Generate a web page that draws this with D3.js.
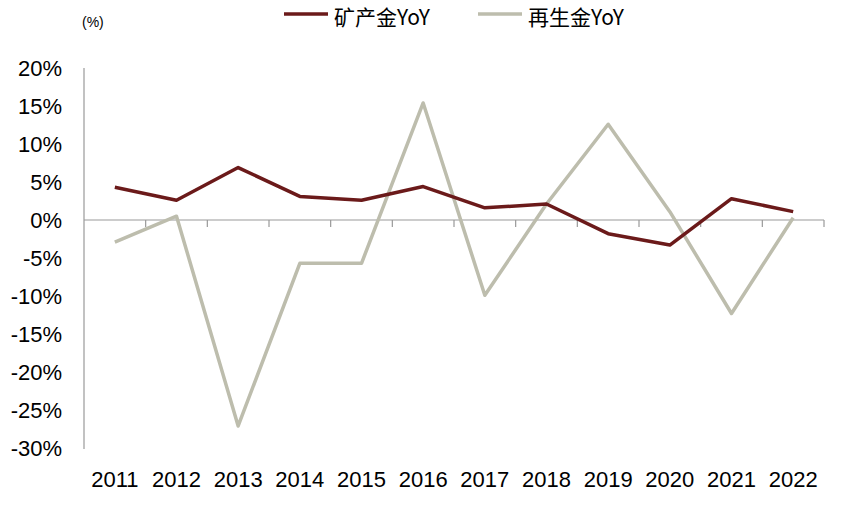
<!DOCTYPE html>
<html><head><meta charset="utf-8">
<script src="https://cdn.jsdelivr.net/npm/d3@7"></script>
<style>body{margin:0;background:#fff;} text{font-family:"Liberation Sans",Arial,sans-serif;}</style>
</head><body><svg id="c" width="848" height="512"></svg>
<script>
const years = ["2011","2012","2013","2014","2015","2016","2017","2018","2019","2020","2021","2022"];
const mineGold = [4.3,2.6,6.9,3.1,2.6,4.4,1.6,2.1,-1.8,-3.3,2.8,1.1];
const recycledGold = [-2.9,0.5,-27.1,-5.7,-5.7,15.4,-9.9,2.1,12.6,1.1,-12.3,0.3];
const yTicks = [20,15,10,5,0,-5,-10,-15,-20,-25,-30];
const seriesNames = ["矿产金YoY","再生金YoY"];
const colors = ["#6B1A1A","#BDBDAD"];

const svg = d3.select("#c");
const x = d3.scaleBand().domain(years).range([84,824]);
const y = d3.scaleLinear().domain([-30,20]).range([448,68]);

// y axis
svg.append("line").attr("x1",84).attr("x2",84).attr("y1",68).attr("y2",449).attr("stroke","#999").attr("stroke-width",1.2);
svg.selectAll(".yl").data(yTicks).enter().append("text")
  .attr("x",62).attr("y",d=>y(d)+8).attr("text-anchor","end")
  .attr("font-size",22).attr("fill","#000").text(d=>d+"%");

// x axis at 0
svg.append("line").attr("x1",84).attr("x2",824).attr("y1",y(0)).attr("y2",y(0)).attr("stroke","#999").attr("stroke-width",1.2);
const bounds = years.map(d=>x(d)).concat([x.range()[1]]).slice(1);
svg.selectAll(".xt").data(bounds).enter().append("line")
  .attr("x1",d=>d).attr("x2",d=>d).attr("y1",y(0)).attr("y2",y(0)+7).attr("stroke","#999").attr("stroke-width",1.2);
svg.selectAll(".xl").data(years).enter().append("text")
  .attr("x",d=>x(d)+x.bandwidth()/2).attr("y",487).attr("text-anchor","middle")
  .attr("font-size",22).attr("fill","#000").text(d=>d);

// lines
const line = d3.line().x((d,i)=>x(years[i])+x.bandwidth()/2).y(d=>y(d));
[recycledGold, mineGold].forEach((s,k)=>{
  svg.append("path").datum(s).attr("d",line).attr("fill","none")
    .attr("stroke",k===0?colors[1]:colors[0]).attr("stroke-width",3.5).attr("stroke-linejoin","round");
});

// legend
const lg = [{x:284,name:seriesNames[0],c:colors[0]},{x:478,name:seriesNames[1],c:colors[1]}];
lg.forEach(l=>{
  svg.append("line").attr("x1",l.x).attr("x2",l.x+44).attr("y1",14).attr("y2",14).attr("stroke",l.c).attr("stroke-width",3.5);
  svg.append("text").attr("x",l.x+50).attr("y",25).attr("font-size",21).attr("fill","#000")
    .style("font-family","'Noto Sans CJK SC','Liberation Sans',sans-serif").text(l.name);
});
svg.append("text").attr("x",82).attr("y",27).attr("font-size",14).attr("fill","#000").text("(%)");
</script></body></html>
